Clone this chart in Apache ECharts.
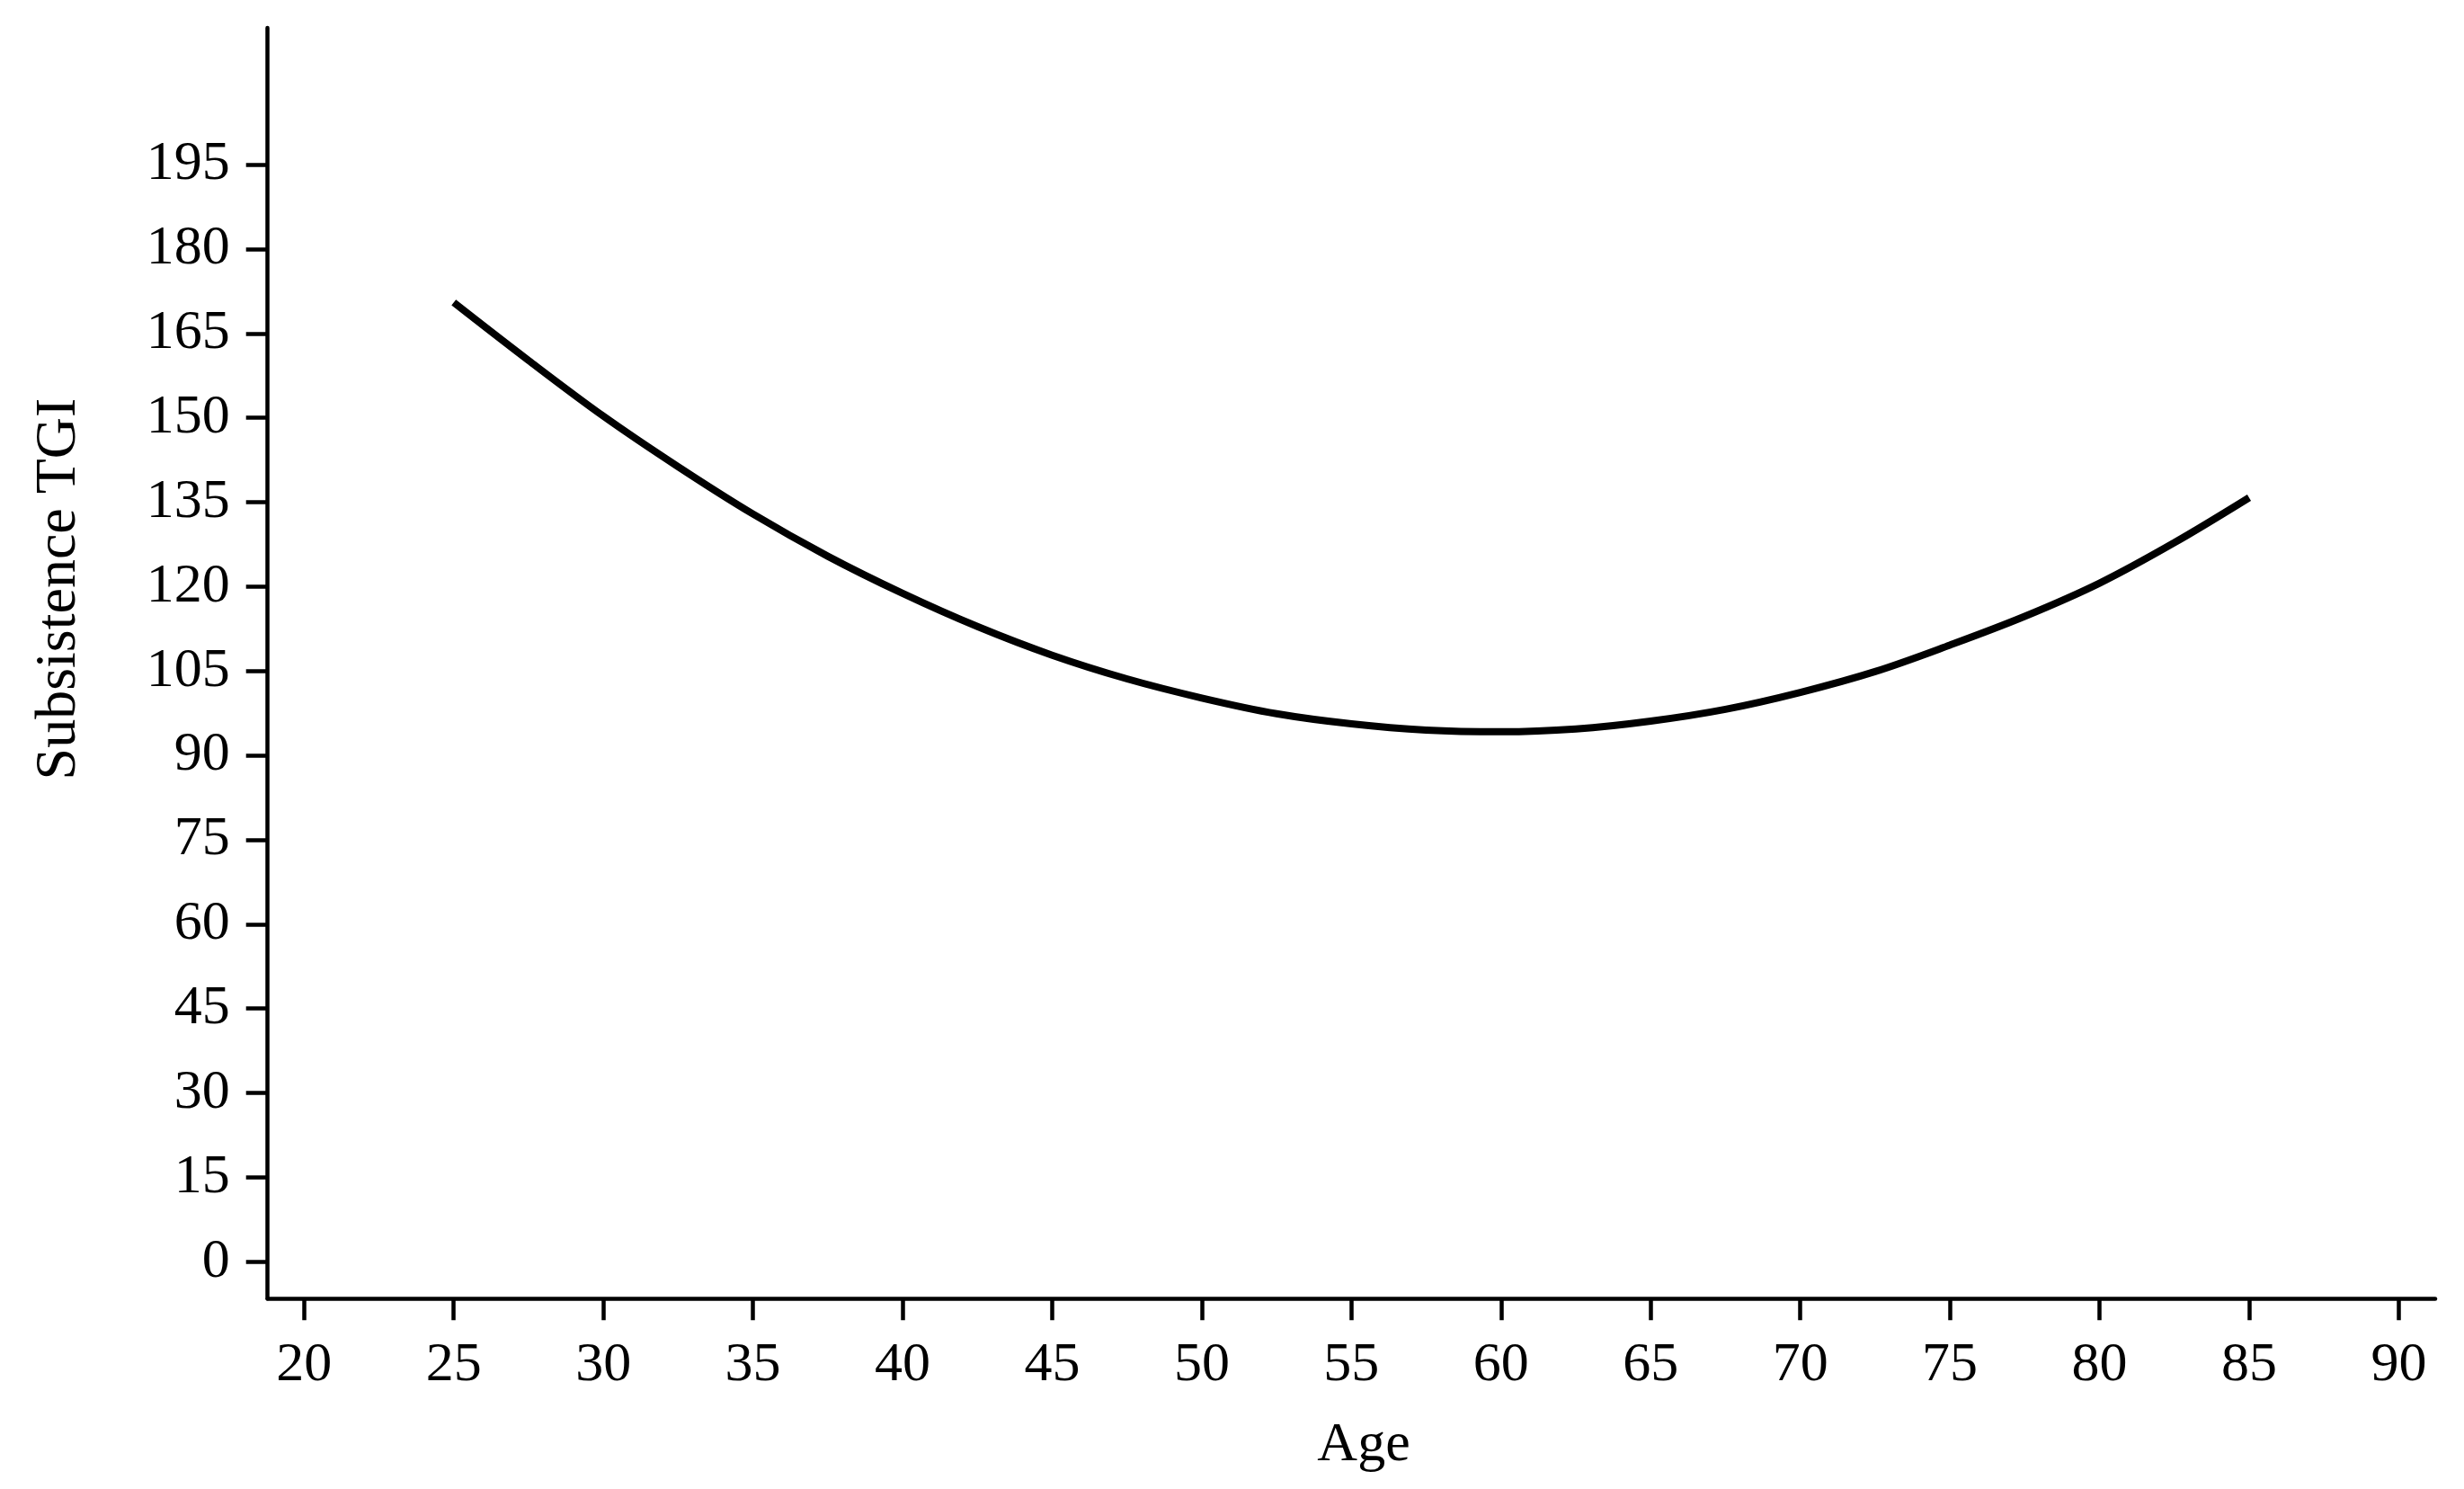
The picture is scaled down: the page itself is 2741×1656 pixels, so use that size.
<!DOCTYPE html>
<html>
<head>
<meta charset="utf-8">
<script src="https://cdn.jsdelivr.net/npm/echarts@6/dist/echarts.min.js"></script>
<style>
html,body{margin:0;padding:0;background:#fff;}
#chart{width:2741px;height:1656px;}
</style>
</head>
<body>
<div id="chart"></div>
<script>
// Data
const ages = [25, 27.5, 30, 32.5, 35, 37.5, 40, 42.5, 45, 47.5, 50, 52.5, 55, 57.5, 60, 62.5, 65, 67.5, 70, 72.5, 75, 77.5, 80, 82.5, 85];
const tgi  = [170.5, 160.2, 150.3, 141.3, 132.9, 125.4, 118.8, 112.9, 107.8, 103.6, 100.2, 97.4, 95.6, 94.5, 94.2, 94.7, 96.1, 98.2, 101.2, 104.9, 109.6, 114.7, 120.6, 127.8, 135.8];
const xTicks = [20, 25, 30, 35, 40, 45, 50, 55, 60, 65, 70, 75, 80, 85, 90];
const yTicks = [0, 15, 30, 45, 60, 75, 90, 105, 120, 135, 150, 165, 180, 195];
const xName = 'Age';
const yName = 'Subsistence TGI';

const FONT = '"Liberation Serif", "Times New Roman", serif';
const chart = echarts.init(document.getElementById('chart'), null, {renderer: 'canvas'});
const axisLineStyle = {color: '#000', width: 4.5};
chart.setOption({
  backgroundColor: '#ffffff',
  animation: false,
  grid: {left: 297.7, right: 32, top: 31, bottom: 211.7, containLabel: false},
  xAxis: {
    type: 'value',
    min: 18.78, max: 91.22,
    axisLine: {show: true, onZero: false, lineStyle: axisLineStyle},
    axisTick: {show: true, length: 24, customValues: xTicks, lineStyle: {color: '#000', width: 4.5}},
    axisLabel: {customValues: xTicks, margin: 43, color: '#000', fontSize: 62, fontFamily: FONT},
    splitLine: {show: false}
  },
  yAxis: {
    type: 'value',
    min: -6.55, max: 219.3,
    axisLine: {show: true, onZero: false, lineStyle: axisLineStyle},
    axisTick: {show: true, length: 24, customValues: yTicks, lineStyle: {color: '#000', width: 4.5}},
    axisLabel: {customValues: yTicks, margin: 42, color: '#000', fontSize: 62, fontFamily: FONT},
    splitLine: {show: false}
  },
  graphic: [
    {type: 'text', x: 1517, y: 1608, style: {text: xName, fill: '#000', font: '62px ' + FONT, textAlign: 'center', textVerticalAlign: 'middle'}},
    {type: 'text', x: 66, y: 655, rotation: Math.PI / 2, style: {text: yName, fill: '#000', font: '64px ' + FONT, textAlign: 'center', textVerticalAlign: 'middle'}}
  ],
  series: [{
    type: 'line',
    data: ages.map((a, i) => [a, tgi[i]]),
    smooth: 0.35,
    symbol: 'none',
    lineStyle: {color: '#000', width: 8, cap: 'butt'}
  }]
});
</script>
</body>
</html>
